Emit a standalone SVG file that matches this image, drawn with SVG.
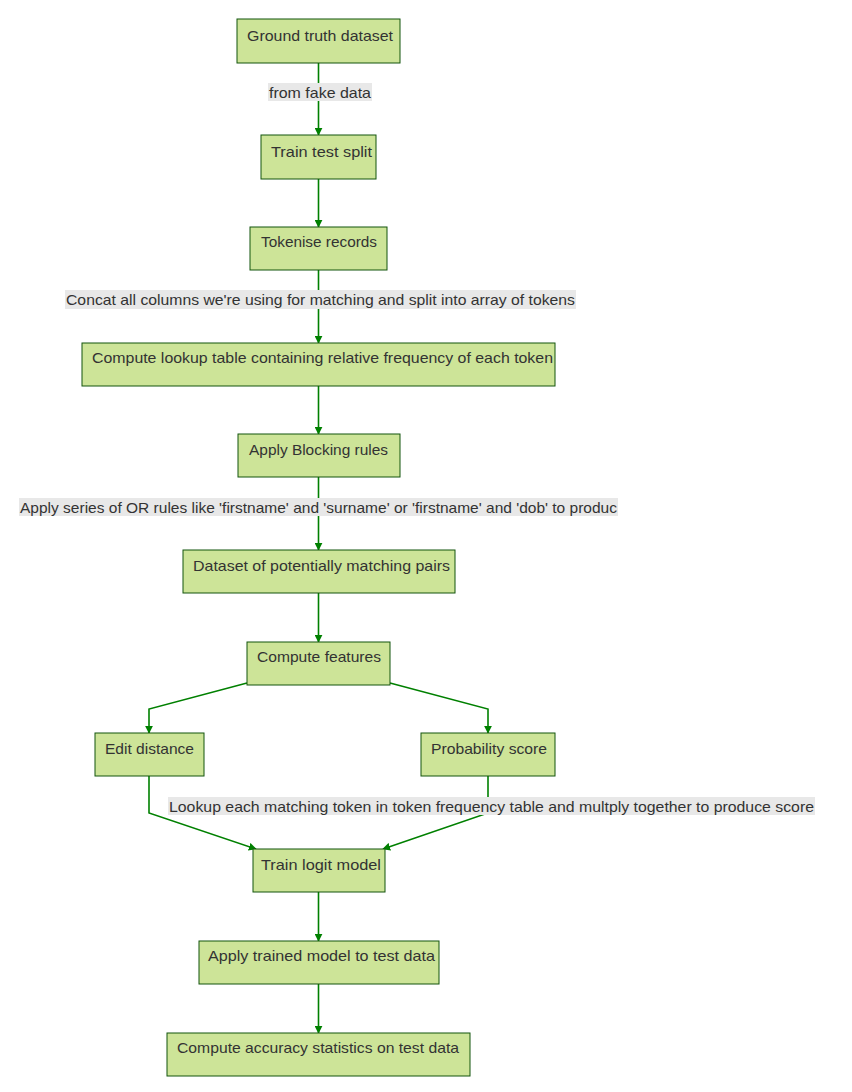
<svg xmlns="http://www.w3.org/2000/svg" width="852" height="1092" viewBox="0 0 852 1092">
  <defs>
    <marker id="arrow" viewBox="0 0 10 10" refX="9" refY="5" markerWidth="8" markerHeight="8" markerUnits="userSpaceOnUse" orient="auto">
      <path d="M0,0 L10,5 L0,10 z" fill="#008000"/>
    </marker>
    <style>
      .node rect { fill: #cde498; stroke: #13540c; stroke-width: 1; }
      .node text, .label text { font-family: "Liberation Sans", Arial, sans-serif; font-size: 14.5px; fill: #333333; text-anchor: start; }
      .edge { fill: none; stroke: #008000; stroke-width: 1.6; marker-end: url(#arrow); }
      .label rect { fill: #e8e8e8; stroke: none; }
    </style>
  </defs>
  <rect width="852" height="1092" fill="#ffffff"/>

  <g id="connectors">
    <path class="edge" d="M318.5,63 L318.5,135"/>
    <path class="edge" d="M318.5,179 L318.5,227"/>
    <path class="edge" d="M318.5,270 L318.5,343"/>
    <path class="edge" d="M318.5,386 L318.5,434"/>
    <path class="edge" d="M318.5,477 L318.5,550"/>
    <path class="edge" d="M318.5,593 L318.5,642"/>
    <path class="edge" d="M247,683 L149,709 L149,733"/>
    <path class="edge" d="M390,683 L488,709 L488,733"/>
    <path class="edge" d="M149,776 L149,813 L256,849"/>
    <path class="edge" d="M488,776 L488,813 L383,849"/>
    <path class="edge" d="M318.5,892 L318.5,941"/>
    <path class="edge" d="M318.5,984 L318.5,1033"/>
  </g>

  <g id="edge-labels">
    <g class="label" id="label-fake-data">
      <rect x="268" y="83" width="104" height="18"/>
      <text x="269" y="98" textLength="102" lengthAdjust="spacingAndGlyphs">from fake data</text>
    </g>
    <g class="label" id="label-concat">
      <rect x="65" y="290" width="511" height="19"/>
      <text x="66" y="305" textLength="509" lengthAdjust="spacingAndGlyphs">Concat all columns we're using for matching and split into array of tokens</text>
    </g>
    <g class="label" id="label-or-rules">
      <rect x="19" y="498" width="599" height="18"/>
      <text x="20" y="513" textLength="597" lengthAdjust="spacingAndGlyphs">Apply series of OR rules like 'firstname' and 'surname' or 'firstname' and 'dob' to produc</text>
    </g>
    <g class="label" id="label-lookup">
      <rect x="168" y="797" width="647" height="18"/>
      <text x="169" y="812" textLength="645" lengthAdjust="spacingAndGlyphs">Lookup each matching token in token frequency table and multply together to produce score</text>
    </g>
  </g>

  <g class="node" id="ground-truth">
    <rect x="237" y="19" width="163" height="44"/>
    <text x="247" y="41" textLength="146" lengthAdjust="spacingAndGlyphs">Ground truth dataset</text>
  </g>
  <g class="node" id="train-test-split">
    <rect x="261" y="135" width="115" height="44"/>
    <text x="271" y="157" textLength="101" lengthAdjust="spacingAndGlyphs">Train test split</text>
  </g>
  <g class="node" id="tokenise">
    <rect x="250" y="227" width="137" height="43"/>
    <text x="261" y="247" textLength="116" lengthAdjust="spacingAndGlyphs">Tokenise records</text>
  </g>
  <g class="node" id="lookup-table">
    <rect x="82" y="343" width="473" height="43"/>
    <text x="92" y="363" textLength="461" lengthAdjust="spacingAndGlyphs">Compute lookup table containing relative frequency of each token</text>
  </g>
  <g class="node" id="blocking">
    <rect x="238" y="434" width="162" height="43"/>
    <text x="249" y="455" textLength="139" lengthAdjust="spacingAndGlyphs">Apply Blocking rules</text>
  </g>
  <g class="node" id="pairs">
    <rect x="183" y="550" width="272" height="43"/>
    <text x="193" y="571" textLength="257" lengthAdjust="spacingAndGlyphs">Dataset of potentially matching pairs</text>
  </g>
  <g class="node" id="features">
    <rect x="247" y="642" width="143" height="43"/>
    <text x="257" y="662" textLength="124" lengthAdjust="spacingAndGlyphs">Compute features</text>
  </g>
  <g class="node" id="edit-distance">
    <rect x="95" y="733" width="109" height="43"/>
    <text x="105" y="754" textLength="89" lengthAdjust="spacingAndGlyphs">Edit distance</text>
  </g>
  <g class="node" id="probability">
    <rect x="421" y="733" width="134" height="43"/>
    <text x="431" y="754" textLength="116" lengthAdjust="spacingAndGlyphs">Probability score</text>
  </g>
  <g class="node" id="logit">
    <rect x="253" y="849" width="132" height="43"/>
    <text x="261" y="870" textLength="120" lengthAdjust="spacingAndGlyphs">Train logit model</text>
  </g>
  <g class="node" id="apply-model">
    <rect x="199" y="941" width="240" height="43"/>
    <text x="208" y="961" textLength="227" lengthAdjust="spacingAndGlyphs">Apply trained model to test data</text>
  </g>
  <g class="node" id="accuracy">
    <rect x="167" y="1033" width="303" height="43"/>
    <text x="177" y="1053" textLength="282" lengthAdjust="spacingAndGlyphs">Compute accuracy statistics on test data</text>
  </g>
</svg>
